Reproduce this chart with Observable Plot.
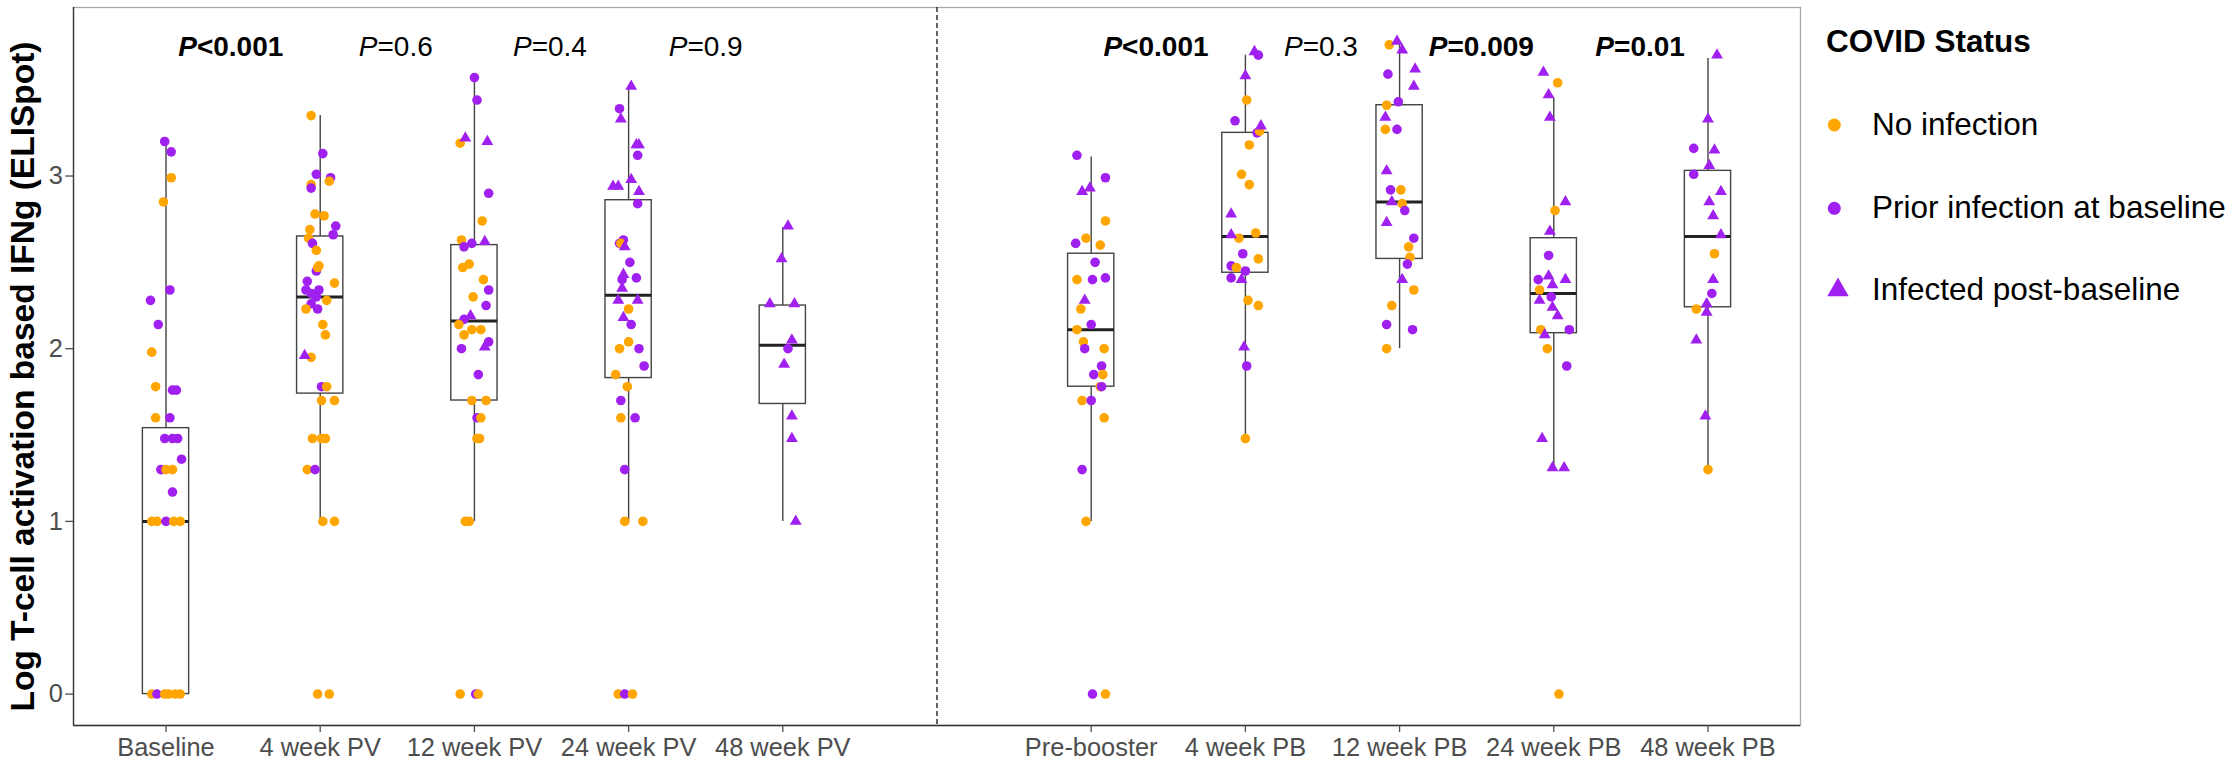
<!DOCTYPE html>
<html><head><meta charset="utf-8">
<script src="https://cdn.jsdelivr.net/npm/d3@7"></script>
<script src="https://cdn.jsdelivr.net/npm/@observablehq/plot@0.6"></script>
<style>
body{margin:0;background:#fff;font-family:"Liberation Sans",Arial,sans-serif;}
#wrap{position:relative;width:2238px;height:758px;background:#fff;}
#chart{position:absolute;left:0;top:0;}
#legend{position:absolute;left:1810px;top:0;}
</style></head><body><div id="wrap"><div id="chart"></div><svg id="legend" width="428" height="758"></svg></div>
<script>
// ---- categories ----
const groups = ["Baseline","4 week PV","12 week PV","24 week PV","48 week PV","Pre-booster","4 week PB","12 week PB","24 week PB","48 week PB"];
const groupPos = [1,2,3,4,5,7,8,9,10,11];
const statusList = ["No infection","Prior infection at baseline","Infected post-baseline"];
const statusCode = {N:"No infection", P:"Prior infection at baseline", I:"Infected post-baseline"};

// ---- box statistics ----
const boxQ1     = [0.00,1.74,1.70,1.83,1.68,1.78,2.44,2.52,2.09,2.24];
const boxMedian = [1.00,2.30,2.16,2.31,2.02,2.11,2.65,2.85,2.32,2.65];
const boxQ3     = [1.54,2.65,2.60,2.86,2.25,2.55,3.25,3.41,2.64,3.03];
const whiskerLo = [0.00,1.00,1.00,1.00,1.00,1.00,1.48,2.00,1.31,1.30];
const whiskerHi = [3.20,3.35,3.57,3.52,2.70,3.11,3.70,3.77,3.45,3.68];

// ---- P values ----
const pText = ["P<0.001","P=0.6","P=0.4","P=0.9","P<0.001","P=0.3","P=0.009","P=0.01"];
const pPos  = [1.42,2.49,3.49,4.50,7.42,8.49,9.53,10.56];
const pBold = [true,false,false,false,true,false,true,true];

// ---- points: [status, value, jitter] ----
const ptsBaseline = [["P",3.20,-0.01],["P",3.14,0.04],["N",2.99,0.04],["N",2.85,-0.02],["P",2.34,0.03],["P",2.28,-0.12],["P",2.14,-0.06],["N",1.98,-0.11],["N",1.78,-0.08],["P",1.76,0.05],["P",1.76,0.08],["N",1.60,-0.08],["P",1.60,0.03],["P",1.48,-0.01],["P",1.48,0.05],["P",1.48,0.09],["P",1.36,0.12],["P",1.30,-0.04],["N",1.30,0.00],["N",1.30,0.05],["P",1.17,0.05],["N",1.00,-0.11],["N",1.00,-0.07],["P",1.00,0.00],["N",1.00,0.06],["N",1.00,0.11],["N",0,-0.11],["P",0,-0.07],["N",0,-0.01],["N",0,0.02],["N",0,0.07],["N",0,0.11]];
const pts4wPV = [["N",3.35,-0.07],["P",3.13,0.02],["P",3.01,-0.03],["P",2.99,0.08],["N",2.97,0.07],["N",2.95,-0.07],["P",2.93,-0.07],["N",2.78,-0.04],["N",2.77,0.03],["P",2.71,0.12],["N",2.69,-0.08],["P",2.66,0.10],["N",2.64,-0.09],["P",2.61,-0.06],["N",2.57,-0.03],["N",2.48,-0.01],["P",2.45,-0.03],["N",2.47,-0.02],["P",2.39,-0.10],["N",2.38,0.11],["P",2.34,-0.11],["P",2.34,-0.01],["P",2.32,-0.07],["P",2.30,-0.03],["N",2.28,0.05],["P",2.26,-0.07],["N",2.23,-0.11],["P",2.23,-0.02],["N",2.14,0.02],["N",2.08,0.04],["I",1.96,-0.12],["N",1.95,-0.07],["P",1.78,0.01],["N",1.78,0.05],["N",1.70,0.01],["N",1.70,0.11],["N",1.48,-0.06],["N",1.48,0.01],["N",1.48,0.04],["N",1.30,-0.10],["P",1.30,-0.04],["N",1.00,0.02],["N",1.00,0.11],["N",0,-0.02],["N",0,0.07]];
const pts12wPV = [["P",3.57,0.00],["P",3.44,0.02],["I",3.22,-0.07],["N",3.19,-0.11],["I",3.20,0.10],["P",2.90,0.11],["N",2.74,0.06],["N",2.63,-0.10],["P",2.61,-0.02],["I",2.62,0.08],["P",2.59,-0.08],["N",2.49,-0.04],["N",2.47,-0.09],["N",2.40,0.07],["P",2.34,0.11],["N",2.30,-0.01],["P",2.25,0.09],["I",2.19,-0.03],["P",2.17,-0.08],["N",2.14,-0.12],["N",2.11,-0.02],["N",2.11,0.05],["N",2.08,-0.08],["P",2.04,0.11],["I",2.01,0.08],["P",2.00,-0.10],["P",1.85,0.03],["N",1.70,-0.02],["N",1.70,0.09],["P",1.60,0.02],["N",1.60,0.05],["N",1.48,0.02],["N",1.48,0.04],["N",1.00,-0.07],["N",1.00,-0.04],["N",0,-0.11],["P",0,0.01],["N",0,0.03]];
const pts24wPV = [["I",3.52,0.02],["P",3.39,-0.07],["I",3.33,-0.06],["I",3.18,0.06],["I",3.18,0.08],["P",3.12,0.07],["I",2.98,0.02],["I",2.94,-0.12],["I",2.94,-0.08],["I",2.91,0.08],["P",2.84,0.07],["P",2.63,-0.04],["P",2.61,-0.07],["N",2.61,-0.06],["I",2.59,-0.03],["P",2.50,0.01],["P",2.41,0.06],["I",2.43,-0.04],["P",2.40,-0.05],["I",2.35,-0.05],["I",2.28,-0.08],["I",2.28,0.07],["N",2.23,0.00],["I",2.18,-0.04],["P",2.14,0.02],["N",2.04,0.00],["N",2.00,-0.07],["P",2.00,0.08],["P",1.90,0.12],["N",1.85,-0.10],["N",1.78,-0.01],["P",1.70,-0.06],["N",1.60,-0.06],["P",1.60,0.05],["P",1.30,-0.03],["N",1.00,-0.03],["N",1.00,0.11],["N",0,-0.08],["P",0,-0.03],["N",0,0.03]];
const pts48wPV = [["I",2.71,0.04],["I",2.52,-0.01],["I",2.26,-0.10],["I",2.26,0.09],["I",2.05,0.07],["P",2.00,0.04],["I",1.91,0.01],["I",1.61,0.07],["I",1.48,0.07],["I",1.00,0.10]];
const ptsPreBooster = [["P",3.12,-0.11],["P",2.99,0.11],["I",2.91,-0.07],["I",2.93,-0.01],["N",2.74,0.11],["N",2.64,-0.04],["P",2.61,-0.12],["N",2.60,0.07],["P",2.50,0.03],["N",2.40,-0.11],["P",2.40,0.01],["P",2.41,0.11],["I",2.28,-0.05],["N",2.23,-0.08],["P",2.14,0.00],["N",2.11,-0.11],["N",2.04,-0.06],["P",2.00,-0.05],["N",2.00,0.10],["P",1.90,0.08],["P",1.85,0.02],["N",1.85,0.09],["N",1.78,0.07],["P",1.78,0.08],["N",1.70,-0.07],["P",1.70,0.00],["N",1.60,0.10],["P",1.30,-0.07],["N",1.00,-0.04],["P",0,0.01],["N",0,0.11]];
const pts4wPB = [["I",3.72,0.07],["P",3.70,0.10],["I",3.58,0.00],["N",3.44,0.01],["P",3.32,-0.08],["I",3.29,0.12],["P",3.25,0.09],["N",3.26,0.11],["N",3.18,0.03],["N",3.01,-0.03],["N",2.95,0.03],["I",2.78,-0.11],["I",2.66,-0.11],["N",2.64,-0.05],["N",2.67,0.08],["P",2.55,-0.02],["N",2.52,0.10],["P",2.48,-0.11],["N",2.47,-0.07],["P",2.45,0.00],["P",2.41,-0.11],["I",2.40,-0.03],["N",2.28,0.02],["N",2.25,0.10],["I",2.01,-0.01],["P",1.90,0.01],["N",1.48,0.00]];
const pts12wPB = [["N",3.76,-0.08],["I",3.78,-0.02],["I",3.73,0.02],["P",3.59,-0.09],["I",3.62,0.12],["I",3.52,0.11],["N",3.41,-0.10],["P",3.43,-0.01],["I",3.34,-0.11],["N",3.27,-0.11],["P",3.27,-0.02],["I",3.03,-0.10],["P",2.92,-0.07],["N",2.92,0.01],["I",2.85,-0.06],["N",2.84,0.02],["P",2.80,0.04],["I",2.73,-0.10],["P",2.64,0.11],["N",2.59,0.07],["N",2.53,0.08],["P",2.49,0.06],["I",2.40,0.02],["N",2.34,0.11],["N",2.25,-0.06],["P",2.14,-0.10],["P",2.11,0.10],["N",2.00,-0.10]];
const pts24wPB = [["I",3.60,-0.08],["N",3.54,0.03],["I",3.47,-0.04],["I",3.34,-0.03],["I",2.85,0.09],["N",2.80,0.01],["I",2.68,-0.03],["P",2.54,-0.04],["I",2.42,-0.04],["P",2.40,-0.12],["I",2.40,0.09],["I",2.37,-0.01],["N",2.34,-0.11],["P",2.30,-0.02],["I",2.28,-0.11],["I",2.24,-0.01],["I",2.19,0.03],["N",2.11,-0.10],["P",2.11,0.12],["I",2.08,-0.07],["N",2.00,-0.05],["P",1.90,0.10],["I",1.48,-0.09],["I",1.31,-0.01],["I",1.31,0.08],["N",0,0.04]];
const pts48wPB = [["I",3.70,0.07],["I",3.33,0.00],["P",3.16,-0.11],["I",3.15,0.05],["I",3.06,0.01],["P",3.01,-0.11],["I",2.91,0.10],["I",2.85,0.01],["I",2.77,0.04],["I",2.66,0.10],["N",2.55,0.05],["I",2.40,0.04],["P",2.32,0.03],["I",2.26,-0.01],["N",2.23,-0.09],["I",2.21,-0.01],["I",2.05,-0.09],["I",1.61,-0.02],["N",1.30,0.00]];

const groupPoints = [ptsBaseline,pts4wPV,pts12wPV,pts24wPV,pts48wPV,ptsPreBooster,pts4wPB,pts12wPB,pts24wPB,pts48wPB];

// ---- styling constants ----
const JITTER_UNIT = 0.84;   // jitter values are in units of 0.84 category spacing
const BOX_HALF = 0.15;
const P_Y = 3.745;
const FONT = '"Liberation Sans", Arial, Helvetica, sans-serif';
const colors = ["#FFA500","#A020F0","#A020F0"];

// ---- build tables ----
const boxes = groups.map((g,i)=>({group:g,pos:groupPos[i],q1:boxQ1[i],med:boxMedian[i],q3:boxQ3[i],lo:whiskerLo[i],hi:whiskerHi[i]}));
const points = groupPoints.flatMap((arr,gi)=>arr.map(([s,v,j])=>({status:statusCode[s],shape:s,value:v,pos:groupPos[gi]+j*JITTER_UNIT})));
const pvals = pText.map((t,i)=>({text:t,pos:pPos[i],bold:pBold[i]}));

const chart = Plot.plot({
  width:1810, height:758,
  marginLeft:73, marginRight:10, marginTop:7, marginBottom:33,
  style:{fontFamily:FONT, background:"#fff", overflow:"visible"},
  x:{type:"linear", domain:[0.4,11.6]},
  y:{domain:[-0.182,3.976]},
  color:{domain:statusList, range:colors},
  marks:[
    Plot.frame({stroke:"#a8a8a8", strokeWidth:1.3}),
    Plot.ruleX([6], {stroke:"#222", strokeWidth:1.4, strokeDasharray:"5,3"}),
    Plot.ruleX(boxes, {x:"pos", y1:"q3", y2:"hi", stroke:"#444", strokeWidth:1.4}),
    Plot.ruleX(boxes, {x:"pos", y1:"lo", y2:"q1", stroke:"#444", strokeWidth:1.4}),
    Plot.rect(boxes, {x1:d=>d.pos-BOX_HALF, x2:d=>d.pos+BOX_HALF, y1:"q1", y2:"q3", fill:"white", stroke:"#444", strokeWidth:1.4}),
    Plot.ruleY(boxes, {y:"med", x1:d=>d.pos-BOX_HALF, x2:d=>d.pos+BOX_HALF, stroke:"#222", strokeWidth:3}),
    Plot.dot(points.filter(d=>d.shape!=="I"), {x:"pos", y:"value", r:4.8, fill:"status", symbol:"circle"}),
    Plot.dot(points.filter(d=>d.shape==="I"), {x:"pos", y:"value", r:4.4, fill:"status", symbol:"triangle"}),
    Plot.ruleX([0.4], {stroke:"#333", strokeWidth:1.3}),
    Plot.ruleY([-0.182], {stroke:"#333", strokeWidth:1.3}),
    Plot.axisX({ticks:groupPos, tickFormat:d=>groups[groupPos.indexOf(d)], tickSize:7, tickPadding:5, fontSize:25.4, color:"#4d4d4d", strokeWidth:1.3, label:null}),
    Plot.axisY({ticks:[0,1,2,3], tickFormat:d=>String(d), tickSize:7.7, tickPadding:3, fontSize:25.4, color:"#4d4d4d", strokeWidth:1.3, label:null}),
    Plot.text(pvals.filter(d=>d.bold), {x:"pos", y:P_Y, text:"text", fontSize:28, fontWeight:"bold", fill:"#000"}),
    Plot.text(pvals.filter(d=>!d.bold), {x:"pos", y:P_Y, text:"text", fontSize:28, fill:"#000"}),
    Plot.text(["Log T-cell activation based IFNg (ELISpot)"], {frameAnchor:"left", textAnchor:"middle", rotate:-90, dx:-50, dy:10, fontSize:33.5, fontWeight:"bold", fill:"#000"})
  ]
});
document.getElementById("chart").appendChild(chart);

// italic "P" in p-value labels
const NS = "http://www.w3.org/2000/svg";
chart.querySelectorAll("text").forEach(t=>{
  const s = t.textContent;
  if (/^P[<=]/.test(s) && t.children.length===0) {
    t.textContent = "";
    const a = document.createElementNS(NS,"tspan"); a.setAttribute("font-style","italic"); a.textContent = "P";
    const b = document.createElementNS(NS,"tspan"); b.textContent = s.slice(1);
    t.appendChild(a); t.appendChild(b);
  }
});

// ---- legend ----
const lg = d3.select("#legend").style("font-family", FONT);
lg.append("text").attr("x",16).attr("y",52).attr("font-size",31.5).attr("font-weight","bold").text("COVID Status");
const legendY = [125, 208.3, 288.5];
const legendBase = [135, 218.3, 300];
statusList.forEach((s,i)=>{
  if (i<2) lg.append("circle").attr("cx",24.3).attr("cy",legendY[i]).attr("r",6.5).attr("fill",colors[i]);
  else lg.append("path").attr("d",d3.symbol(d3.symbolTriangle, 200)()).attr("transform",`translate(28,${legendY[i]+1.5})`).attr("fill",colors[i]);
  lg.append("text").attr("x",62).attr("y",legendBase[i]).attr("font-size",31.5).attr("fill","#000").text(s);
});
</script></body></html>
